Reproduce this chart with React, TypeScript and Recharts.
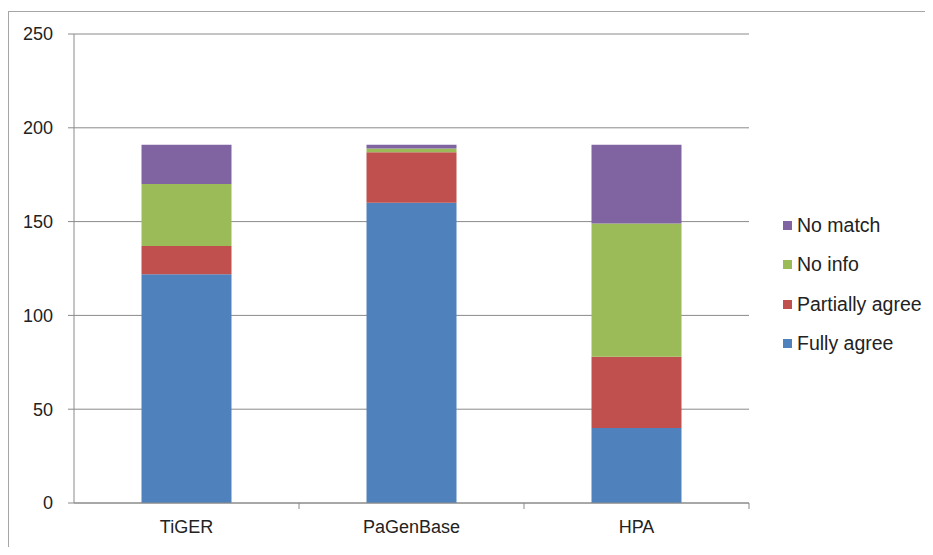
import React from 'react';
import { BarChart, Bar, XAxis, YAxis, CartesianGrid, Legend } from 'recharts';

const sources = ['TiGER', 'PaGenBase', 'HPA'];
const fullyAgree = [122, 160, 40];
const partiallyAgree = [15, 27, 38];
const noInfo = [33, 2, 71];
const noMatch = [21, 2, 42];
const yTicks = [0, 50, 100, 150, 200, 250];

const series = [
  { key: 'fully', name: 'Fully agree', color: '#4F81BD' },
  { key: 'partial', name: 'Partially agree', color: '#C0504D' },
  { key: 'noinfo', name: 'No info', color: '#9BBB59' },
  { key: 'nomatch', name: 'No match', color: '#8064A2' },
];

const data = sources.map((name, i) => ({
  name,
  fully: fullyAgree[i],
  partial: partiallyAgree[i],
  noinfo: noInfo[i],
  nomatch: noMatch[i],
}));

const W = 933;
const H = 555;
const margin = { top: 34, right: 184, bottom: 0, left: 0 };
const Y_AXIS_W = 74;
const X_AXIS_H = 52;
const FONT = '"Liberation Sans", Arial, sans-serif';
const AXIS_GRAY = '#8a8a8a';

// half a category band, used to put the x tick marks between categories like Excel does
const halfBand = (W - margin.left - margin.right - Y_AXIS_W) / sources.length / 2;

const CategoryTick = (props: any) => {
  const { x, y, payload } = props;
  return (
    <g>
      <line x1={x + halfBand} x2={x + halfBand} y1={y - 16} y2={y - 10} stroke={AXIS_GRAY} strokeWidth={1} />
      <text x={x} y={y + 14} textAnchor="middle" fill="#222" fontSize={18} fontFamily={FONT}>
        {payload.value}
      </text>
    </g>
  );
};

const LegendContent = () => (
  <div style={{ fontFamily: FONT, fontSize: 19.5, color: '#222' }}>
    {[...series].reverse().map((s) => (
      <div key={s.key} style={{ display: 'flex', alignItems: 'center', height: 39.3 }}>
        <span style={{ width: 9, height: 9, background: s.color, marginRight: 5, display: 'inline-block' }} />
        <span>{s.name}</span>
      </div>
    ))}
  </div>
);

export default function App() {
  return (
    <div style={{ margin: -8, width: W, height: H, position: 'relative', background: '#fff' }}>
      <div
        style={{
          position: 'absolute',
          left: 8,
          top: 11,
          right: 0,
          bottom: 0,
          borderTop: '1.5px solid #a6a6a6',
          borderLeft: '1.5px solid #a6a6a6',
        }}
      />
      <BarChart width={W} height={H} data={data} margin={margin} barCategoryGap="30%">
        <CartesianGrid vertical={false} stroke={AXIS_GRAY} strokeWidth={1} />
        <XAxis
          dataKey="name"
          height={X_AXIS_H}
          axisLine={{ stroke: AXIS_GRAY }}
          tickLine={false}
          tickSize={6}
          tickMargin={10}
          tick={<CategoryTick />}
          interval={0}
        />
        <YAxis
          width={Y_AXIS_W}
          domain={[0, 250]}
          ticks={yTicks}
          axisLine={{ stroke: AXIS_GRAY }}
          tickLine={{ stroke: AXIS_GRAY }}
          tickSize={6}
          tickMargin={15}
          tick={{ fill: '#222', fontSize: 18, fontFamily: FONT }}
        />
        <Legend
          layout="vertical"
          align="center"
          verticalAlign="middle"
          content={<LegendContent />}
          wrapperStyle={{ position: 'absolute', left: 783, top: 206, width: 150 }}
        />
        {series.map((s) => (
          <Bar key={s.key} dataKey={s.key} name={s.name} stackId="a" fill={s.color} isAnimationActive={false} />
        ))}
      </BarChart>
    </div>
  );
}
